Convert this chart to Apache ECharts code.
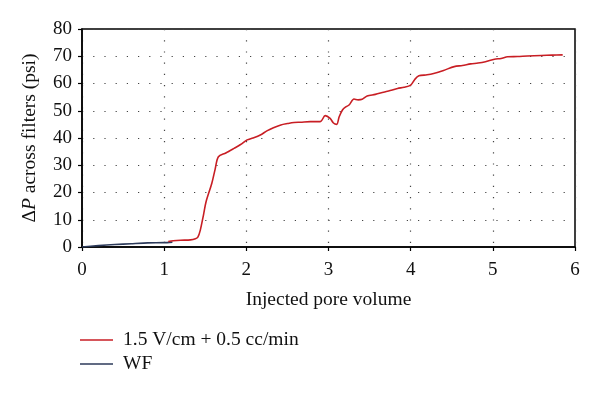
<!DOCTYPE html>
<html>
<head>
<meta charset="utf-8">
<script src="https://cdn.jsdelivr.net/npm/echarts@6/dist/echarts.min.js"></script>
<style>
  html, body { margin: 0; padding: 0; background: #fff; }
  #chart { width: 600px; height: 398px; }
</style>
</head>
<body>
<div id="chart"></div>
<script>
  // injected pore volume / pressure drop readings
  const wfX = [0, 0.2, 0.4, 0.6, 0.8, 1.0, 1.1];
  const wfY = [0, 0.5, 0.9, 1.2, 1.5, 1.6, 1.8];

  const efX = [1.05, 1.11, 1.2, 1.32, 1.38, 1.41, 1.44, 1.48, 1.51, 1.58, 1.62, 1.66, 1.75, 1.85, 1.93, 2.01, 2.08, 2.17, 2.25,
    2.33, 2.42, 2.5, 2.58, 2.66, 2.78, 2.9, 2.96, 3.02, 3.06, 3.1, 3.13, 3.17, 3.21, 3.25, 3.31, 3.36, 3.41, 3.47, 3.57, 3.67,
    3.75, 3.84, 3.92, 4.0, 4.05, 4.1, 4.2, 4.28, 4.4, 4.53, 4.63, 4.73, 4.82, 4.91, 5.02, 5.1, 5.18, 5.3, 5.42, 5.59, 5.72, 5.85];
  const efY = [2.0, 2.3, 2.5, 2.6, 3.0, 3.6, 6.2, 12.0, 16.6, 23.4, 28.5, 33.1, 34.5, 36.2, 37.6, 39.3, 40.0, 41.1, 42.6,
    43.8, 44.8, 45.3, 45.7, 45.8, 46.0, 46.0, 48.2, 47.2, 45.5, 45.0, 47.8, 50.3, 51.4, 52.1, 54.3, 54.0, 54.2, 55.4, 56.0, 56.8,
    57.4, 58.2, 58.6, 59.4, 61.5, 62.8, 63.2, 63.7, 64.8, 66.2, 66.6, 67.2, 67.5, 68.0, 68.9, 69.2, 69.8, 69.9, 70.1, 70.3, 70.4, 70.5];

  const xTicks = [0, 1, 2, 3, 4, 5, 6];
  const yTicks = [0, 10, 20, 30, 40, 50, 60, 70, 80];

  const serif = '"Liberation Serif", "DejaVu Serif", serif';
  const dotted = { show: true, lineStyle: { color: '#444', type: [1.2, 10], width: 1.2 } };

  const chart = echarts.init(document.getElementById('chart'));
  chart.setOption({
    animation: false,
    grid: {
      left: 82, right: 25, top: 29, bottom: 151,
      show: true, borderColor: '#000', borderWidth: 1.5, backgroundColor: 'transparent'
    },
    legend: {
      orient: 'vertical',
      left: 80, top: 330, padding: 0,
      icon: 'rect',
      itemWidth: 33, itemHeight: 1.5, itemGap: 4,
      data: ['1.5 V/cm + 0.5 cc/min', 'WF'],
      textStyle: { fontFamily: serif, fontSize: 19.5, color: '#111', lineHeight: 16, padding: [0, 0, 0, 5] }
    },
    xAxis: {
      type: 'value',
      min: xTicks[0], max: xTicks[xTicks.length - 1], interval: 1,
      name: 'Injected pore volume',
      nameLocation: 'middle', nameGap: 43,
      nameTextStyle: { fontFamily: serif, fontSize: 19.5, color: '#111' },
      axisLine: { show: true, onZero: false, lineStyle: { color: '#000', width: 1.5 } },
      axisTick: { show: true, length: 4, lineStyle: { color: '#000', width: 1.2 } },
      axisLabel: { fontFamily: serif, fontSize: 19, color: '#111', margin: 14 },
      splitLine: dotted
    },
    yAxis: {
      type: 'value',
      min: yTicks[0], max: yTicks[yTicks.length - 1], interval: 10,
      name: '{n|Δ}{i|P}{n| across filters (psi)}',
      nameLocation: 'middle', nameGap: 42,
      nameTextStyle: {
        rich: {
          n: { fontFamily: serif, fontSize: 19.5, color: '#111' },
          i: { fontFamily: serif, fontSize: 19.5, color: '#111', fontStyle: 'italic' }
        }
      },
      axisLine: { show: true, lineStyle: { color: '#000', width: 1.5 } },
      axisTick: { show: true, length: 4, lineStyle: { color: '#000', width: 1.2 } },
      axisLabel: { fontFamily: serif, fontSize: 19, color: '#111', margin: 10 },
      splitLine: dotted
    },
    series: [
      {
        name: 'WF',
        type: 'line',
        symbol: 'none',
        smooth: 0.2,
        data: wfX.map((x, i) => [x, wfY[i]]),
        lineStyle: { color: '#2c3a5a', width: 1.6 },
        itemStyle: { color: '#2c3a5a' }
      },
      {
        name: '1.5 V/cm + 0.5 cc/min',
        type: 'line',
        symbol: 'none',
        smooth: 0.3,
        data: efX.map((x, i) => [x, efY[i]]),
        lineStyle: { color: '#c81e24', width: 1.6 },
        itemStyle: { color: '#c81e24' }
      }
    ]
  });
</script>
</body>
</html>
